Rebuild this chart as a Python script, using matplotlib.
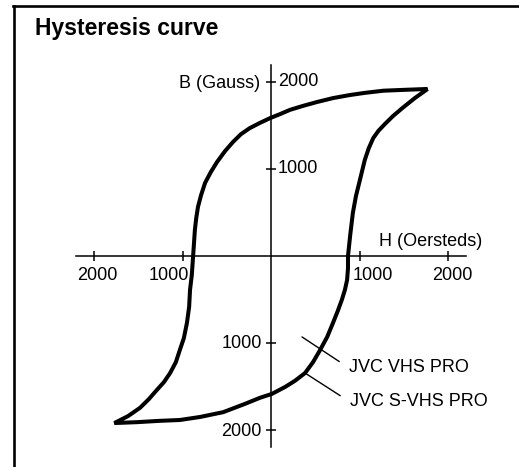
import matplotlib
matplotlib.use('Agg')
import matplotlib.pyplot as plt
from matplotlib.lines import Line2D

plt.rcParams['font.family'] = ['Liberation Sans', 'DejaVu Sans']

# descending branch (from +saturation to -saturation), H in Oersteds, B in Gauss
desc_h = [1770, 1510, 1270, 1060, 890, 700, 520, 360, 215, 100, -10,
          -125, -240, -340, -430, -520, -610, -680, -745, -790, -825, -845,
          -860, -870, -880, -895, -915, -925, -950, -985, -1030, -1075,
          -1140, -1210, -1290, -1380, -1480, -1615, -1770]
desc_b = [1920, 1910, 1900, 1875, 1850, 1815, 1770, 1725, 1680, 1630, 1585,
          1530, 1470, 1400, 1310, 1205, 1080, 965, 840, 700, 565, 435,
          300, 150, 0, -220, -390, -585, -770, -945, -1080, -1220,
          -1345, -1450, -1540, -1645, -1745, -1840, -1920]

# ascending branch (from -saturation back to +saturation)
asc_h = [-1770, -1515, -1265, -1030, -800, -540, -295, -125, 10, 160, 270,
         385, 475, 555, 635, 700, 755, 800, 835, 860, 870, 870, 895, 925,
         960, 1005, 1060, 1105, 1155, 1215, 1285, 1380, 1490, 1625, 1770]
asc_b = [-1920, -1910, -1895, -1885, -1850, -1795, -1700, -1630, -1585, -1505, -1435,
         -1345, -1220, -1080, -930, -770, -630, -505, -390, -275, -140, 0, 240, 495,
         690, 875, 1105, 1240, 1355, 1440, 1515, 1610, 1705, 1815, 1920]

x_ticks = [-2000, -1000, 1000, 2000]
x_tick_labels = ['2000', '1000', '1000', '2000']
y_ticks = [-2000, -1000, 1000, 2000]
y_tick_labels = ['2000', '1000', '1000', '2000']

series_names = ['JVC VHS PRO', 'JVC S-VHS PRO']
# where each leader line touches the loop, and where its label sits
leader_points = [(350, -930), (384, -1345)]
label_points = [(881, -1287), (893, -1678)]

W, H = 519, 467
fig = plt.figure(figsize=(W / 100, H / 100), dpi=100)
ax = fig.add_axes([76.3 / W, (H - 447.4) / H, 389.4 / W, 382.8 / H])
ax.set_xlim(-2200, 2200)
ax.set_ylim(-2200, 2200)

ax.plot(desc_h + asc_h[1:], desc_b + asc_b[1:], color='black', lw=2.9,
        solid_joinstyle='miter', solid_capstyle='butt')

# cross-shaped axes through the origin
for side in ['top', 'right']:
    ax.spines[side].set_visible(False)
ax.spines['left'].set_position('zero')
ax.spines['bottom'].set_position('zero')
ax.spines['left'].set_bounds(-2200, 2200)
ax.spines['bottom'].set_bounds(-2200, 2200)
for side in ['left', 'bottom']:
    ax.spines[side].set_linewidth(1.1)

ax.set_xticks(x_ticks)
ax.set_yticks(y_ticks)
ax.tick_params(direction='inout', length=7, width=1.1,
               labelbottom=False, labelleft=False)

fs = 13
x_shift = [3, -14, 13, 4]
for t, lab, dx in zip(x_ticks, x_tick_labels, x_shift):
    ax.annotate(lab, (t, 0), xytext=(dx, -19), textcoords='offset pixels',
                ha='center', va='center', fontsize=fs, annotation_clip=False)
for t, lab in zip(y_ticks, y_tick_labels):
    if t > 0:
        ax.annotate(lab, (0, t), xytext=(7, 0), textcoords='offset pixels',
                    ha='left', va='center', fontsize=fs, annotation_clip=False)
    else:
        ax.annotate(lab, (0, t), xytext=(-9, -1), textcoords='offset pixels',
                    ha='right', va='center', fontsize=fs, annotation_clip=False)

ax.annotate('B (Gauss)', (0, 2000), xytext=(-11, -2), textcoords='offset pixels',
            ha='right', va='center', fontsize=fs, annotation_clip=False)
ax.annotate('H (Oersteds)', (2200, 0), xytext=(17, 14), textcoords='offset pixels',
            ha='right', va='center', fontsize=fs, annotation_clip=False)

for name, xy, txt in zip(series_names, leader_points, label_points):
    ax.annotate(name, xy=xy, xytext=txt, ha='left', va='center', fontsize=fs,
                annotation_clip=False,
                arrowprops=dict(arrowstyle='-', color='black', lw=1.0,
                                relpos=(0, 0.5), shrinkA=6, shrinkB=0))

fig.text(35 / W, 1 - 35 / H, 'Hysteresis curve', fontsize=16.5, fontweight='bold',
         ha='left', va='baseline')

# frame of the figure (left and top edges only, as in the scan)
fig.add_artist(Line2D([14 / W, 14 / W], [0, 1 - 6 / H], transform=fig.transFigure,
                      color='black', lw=1.9))
fig.add_artist(Line2D([13 / W, 1], [1 - 6 / H, 1 - 6 / H], transform=fig.transFigure,
                      color='black', lw=1.9))

fig.savefig('out.png', dpi=100)
